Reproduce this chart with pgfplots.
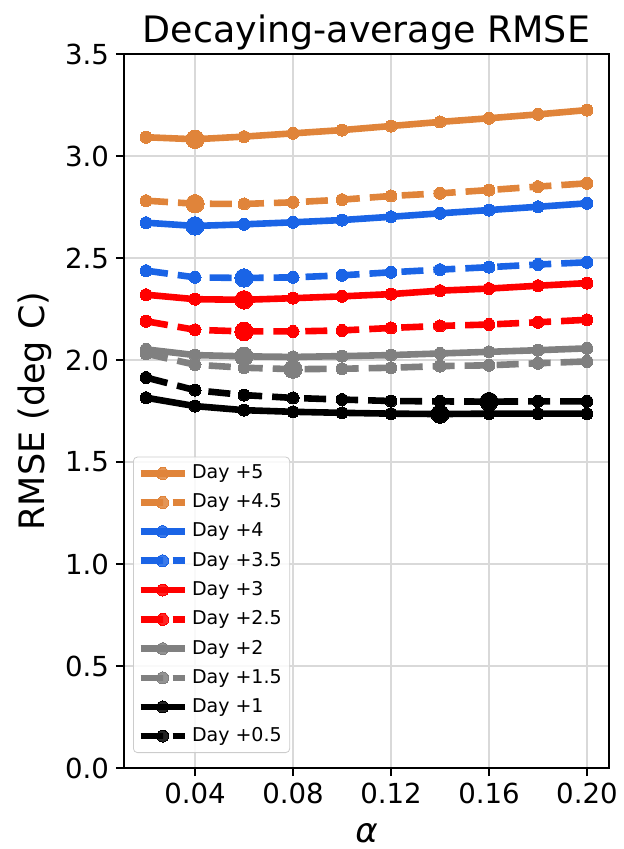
\documentclass[border=0pt]{standalone}
\usepackage{fontspec}
\setmainfont{DejaVu Sans}
\usepackage{pgfplots}
\pgfplotsset{compat=1.18}
\definecolor{cOr}{HTML}{E0843A}
\definecolor{cBl}{HTML}{1A64E6}
\definecolor{cRd}{HTML}{FF0000}
\definecolor{cGy}{HTML}{808080}
\pgfplotsset{
  ser/.style={color=#1, line width=3.3pt, mark=*, mark size=3pt, mark options={solid, fill=#1, draw=#1, line width=0pt}},
  dsh/.style={dash pattern=on 11pt off 5pt},
  big/.style={color=#1, only marks, mark=*, mark size=4.6pt, mark options={solid, fill=#1, draw=#1, line width=0pt}, forget plot},
}
\begin{document}
\begin{tikzpicture}
\begin{axis}[
  name=ax,
  scale only axis, width=242.5pt, height=357pt,
  xmin=0.011, xmax=0.209, ymin=0, ymax=3.5,
  xtick={0.04,0.08,0.12,0.16,0.20},
  ytick={0,0.5,1,1.5,2,2.5,3,3.5},
  xticklabel style={/pgf/number format/.cd, fixed, fixed zerofill, precision=2},
  yticklabel style={/pgf/number format/.cd, fixed, fixed zerofill, precision=1},
  /pgf/number format/assume math mode=true,
  ticklabel style={font=\fontsize{13.8}{16}\selectfont},
  tick align=outside, tick pos=left, major tick length=4pt,
  tick style={black, line width=0.8pt},
  axis line style={line width=0.9pt},
  grid=major, major grid style={black!15, line width=0.6pt},
  title={Decaying-average RMSE},
  title style={font=\fontsize{18.2}{21}\selectfont, at={(axis description cs:0.5,1)}, anchor=base, yshift=-0.5pt},
  ylabel={RMSE (deg C)},
  ylabel style={font=\fontsize{17.5}{20}\selectfont, at={(axis description cs:-0.1835,0.5)}, anchor=center},
  xlabel={{\itshape α}},
  xlabel style={font=\fontsize{17}{20}\selectfont, at={(axis description cs:0.5,0)}, yshift=-32.5pt, anchor=center, inner sep=0pt},
  legend style={at={(axis description cs:0.0186,0.021)}, anchor=south west, font=\fontsize{9.5}{11}\selectfont,
    draw=black!20, rounded corners=2pt, fill=white, fill opacity=0.85, text opacity=1, inner sep=2pt,
    row sep=2.1pt},
  legend cell align=left,
  legend image code/.code={\draw[mark repeat=2, mark phase=2] plot coordinates {(0pt,0pt) (11pt,0pt) (22pt,0pt)};},
]
% Day +5
\addplot[ser=cOr] coordinates {(0.02,3.092)(0.04,3.082)(0.06,3.095)(0.08,3.111)(0.10,3.127)(0.12,3.147)(0.14,3.167)(0.16,3.185)(0.18,3.204)(0.20,3.225)};
\addlegendentry{Day +5}
% Day +4.5
\addplot[ser=cOr, dsh] coordinates {(0.02,2.781)(0.04,2.766)(0.06,2.765)(0.08,2.773)(0.10,2.786)(0.12,2.804)(0.14,2.817)(0.16,2.833)(0.18,2.850)(0.20,2.866)};
\addlegendentry{Day +4.5}
% Day +4
\addplot[ser=cBl] coordinates {(0.02,2.673)(0.04,2.657)(0.06,2.665)(0.08,2.675)(0.10,2.686)(0.12,2.702)(0.14,2.719)(0.16,2.735)(0.18,2.751)(0.20,2.768)};
\addlegendentry{Day +4}
% Day +3.5
\addplot[ser=cBl, dsh] coordinates {(0.02,2.438)(0.04,2.405)(0.06,2.402)(0.08,2.405)(0.10,2.415)(0.12,2.430)(0.14,2.443)(0.16,2.455)(0.18,2.468)(0.20,2.479)};
\addlegendentry{Day +3.5}
% Day +3
\addplot[ser=cRd] coordinates {(0.02,2.320)(0.04,2.298)(0.06,2.295)(0.08,2.303)(0.10,2.312)(0.12,2.323)(0.14,2.340)(0.16,2.350)(0.18,2.364)(0.20,2.377)};
\addlegendentry{Day +3}
% Day +2.5
\addplot[ser=cRd, dsh] coordinates {(0.02,2.190)(0.04,2.148)(0.06,2.140)(0.08,2.140)(0.10,2.145)(0.12,2.157)(0.14,2.167)(0.16,2.174)(0.18,2.185)(0.20,2.197)};
\addlegendentry{Day +2.5}
% Day +2
\addplot[ser=cGy] coordinates {(0.02,2.052)(0.04,2.024)(0.06,2.018)(0.08,2.015)(0.10,2.019)(0.12,2.024)(0.14,2.032)(0.16,2.040)(0.18,2.048)(0.20,2.057)};
\addlegendentry{Day +2}
% Day +1.5
\addplot[ser=cGy, dsh] coordinates {(0.02,2.031)(0.04,1.977)(0.06,1.962)(0.08,1.955)(0.10,1.957)(0.12,1.962)(0.14,1.970)(0.16,1.974)(0.18,1.984)(0.20,1.993)};
\addlegendentry{Day +1.5}
% Day +1
\addplot[ser=black] coordinates {(0.02,1.815)(0.04,1.774)(0.06,1.754)(0.08,1.746)(0.10,1.741)(0.12,1.737)(0.14,1.735)(0.16,1.737)(0.18,1.737)(0.20,1.737)};
\addlegendentry{Day +1}
% Day +0.5
\addplot[ser=black, dsh] coordinates {(0.02,1.914)(0.04,1.852)(0.06,1.828)(0.08,1.814)(0.10,1.806)(0.12,1.799)(0.14,1.797)(0.16,1.796)(0.18,1.797)(0.20,1.797)};
\addlegendentry{Day +0.5}
% minima markers
\addplot[big=cOr] coordinates {(0.04,3.082)};
\addplot[big=cOr] coordinates {(0.04,2.766)};
\addplot[big=cBl] coordinates {(0.04,2.657)};
\addplot[big=cBl] coordinates {(0.06,2.402)};
\addplot[big=cRd] coordinates {(0.06,2.295)};
\addplot[big=cRd] coordinates {(0.06,2.140)};
\addplot[big=cGy] coordinates {(0.06,2.018)};
\addplot[big=cGy] coordinates {(0.08,1.955)};
\addplot[big=black] coordinates {(0.14,1.735)};
\addplot[big=black] coordinates {(0.16,1.796)};
\coordinate (bl) at (axis description cs:0,0);
\coordinate (tr) at (axis description cs:1,1);
\end{axis}
\pgfresetboundingbox
\path[use as bounding box] ([xshift=-62pt,yshift=-40.5pt]bl) rectangle ([xshift=7.5pt,yshift=27pt]tr);
\end{tikzpicture}
\end{document}
